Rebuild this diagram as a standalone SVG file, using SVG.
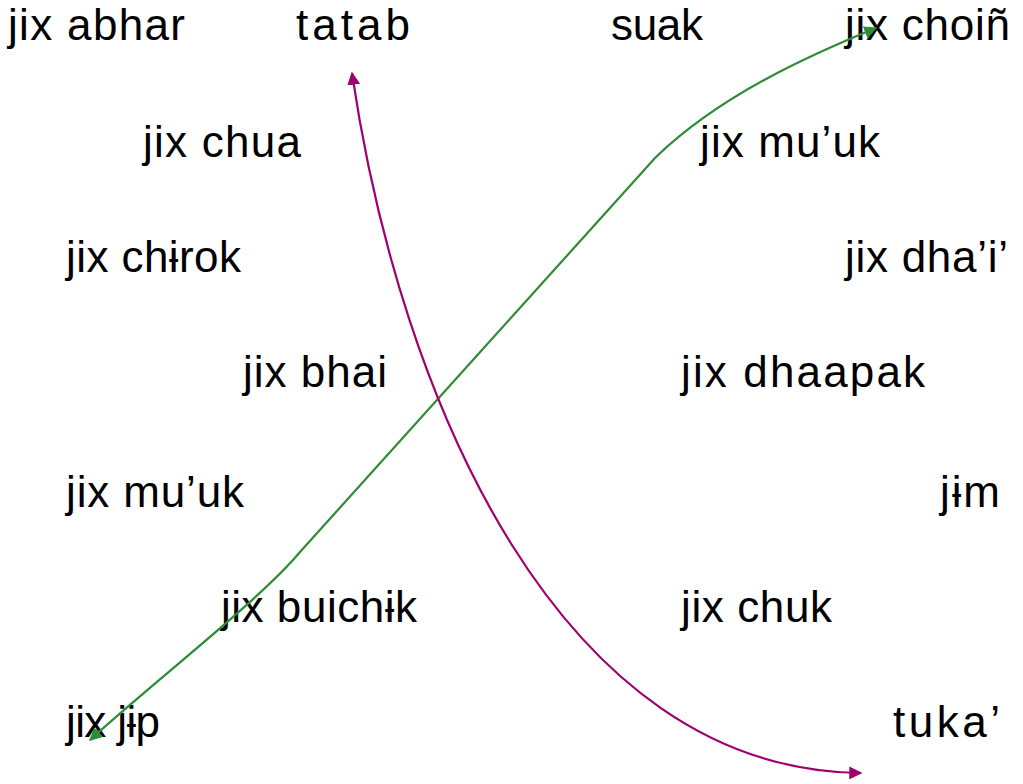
<svg xmlns="http://www.w3.org/2000/svg" width="1023" height="784" viewBox="0 0 1023 784">
<style>
text{font-family:"Liberation Sans","DejaVu Sans",sans-serif;font-size:44px;fill:#000}
.g{fill:none;stroke:#2e8b36;stroke-width:2.2}
.m{fill:none;stroke:#a0006e;stroke-width:2.2}
</style>
<defs>
<marker id="ag" viewBox="0 0 10 10" refX="9" refY="5" markerWidth="13" markerHeight="13" orient="auto-start-reverse" markerUnits="userSpaceOnUse"><path d="M0,0 L10,5 L0,10 z" fill="#2e8b36"/></marker>
<marker id="am" viewBox="0 0 10 10" refX="9" refY="5" markerWidth="13" markerHeight="13" orient="auto-start-reverse" markerUnits="userSpaceOnUse"><path d="M0,0 L10,5 L0,10 z" fill="#a0006e"/></marker>
</defs>
<g id="n1"><text x="8" y="40" textLength="177">jix abhar</text></g>
<g id="n2"><text x="296" y="40" textLength="114">tatab</text></g>
<g id="n3"><text x="611" y="40" textLength="92">suak</text></g>
<g id="n4"><text x="845" y="40" textLength="165">jix choiñ</text></g>
<g id="n5"><text x="143" y="157" textLength="158">jix chua</text></g>
<g id="n6"><text x="700" y="157" textLength="180">jix mu’uk</text></g>
<g id="n7"><text x="66" y="272" textLength="175">jix chɨrok</text></g>
<g id="n8"><text x="845" y="272" textLength="163">jix dha’i’</text></g>
<g id="n9"><text x="243" y="387" textLength="144">jix bhai</text></g>
<g id="n10"><text x="681" y="387" textLength="244">jix dhaapak</text></g>
<g id="n11"><text x="66" y="507" textLength="178">jix mu’uk</text></g>
<g id="n12"><text x="940" y="507" textLength="60">jɨm</text></g>
<g id="n13"><text x="221" y="622" textLength="196">jix buichɨk</text></g>
<g id="n14"><text x="681" y="622" textLength="151">jix chuk</text></g>
<g id="n15"><text x="66" y="737" textLength="94">jix jɨp</text></g>
<g id="n16"><text x="893" y="737" textLength="107">tuka’</text></g>
<g id="connectors">
<path class="g" d="M90,740 C150,685 260,600 300,552 L655,158 C720,95 810,55 876,28" marker-start="url(#ag)" marker-end="url(#ag)"/>
<path class="m" d="M352,73 C400,400 560,770 861,773" marker-start="url(#am)" marker-end="url(#am)"/>
</g>
</svg>
